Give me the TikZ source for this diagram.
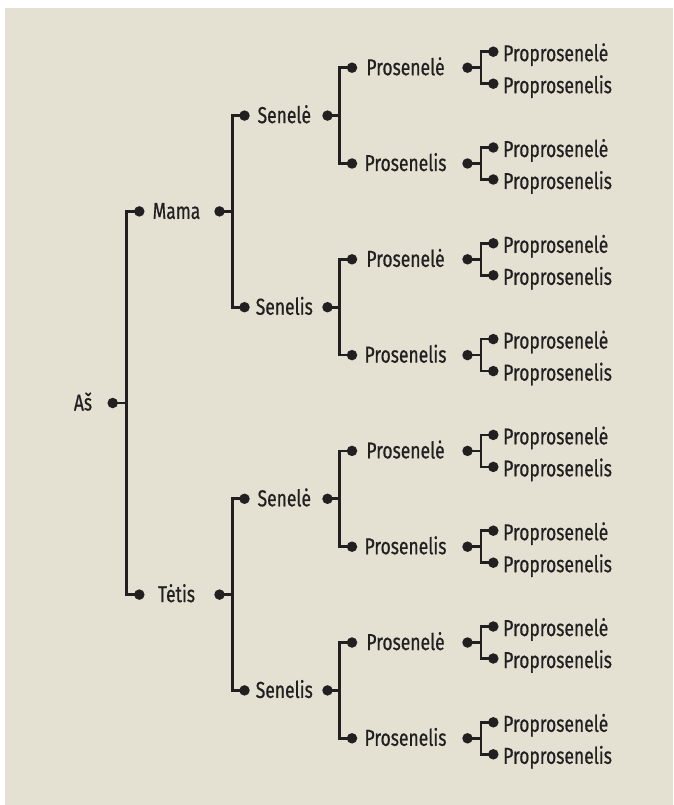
\documentclass[tikz,border=0pt]{standalone}
\usepackage{fontspec}
\setmainfont{Fira Sans}[FakeStretch=0.76,FakeBold=0.6]
\definecolor{bg}{HTML}{E4E1D3}
\definecolor{ink}{HTML}{231F20}
\begin{document}
\begin{tikzpicture}[x=1pt,y=-1pt,
  dot/.style={circle,fill=ink,inner sep=0pt,minimum size=10.5pt},
  conn/.style={draw=ink,line width=2.7pt},
  lbl/.style={font=\fontsize{23}{27}\selectfont,text=ink,inner sep=0pt,anchor=base},
  lbll/.style={lbl,anchor=base west}]
\useasboundingbox (0,0) rectangle (673,805);
\fill[bg] (5,8) rectangle (673,805);
% level 0
\node[dot] (R0) at (112.7,403) {};
\node[lbl] (T0) at (83,410.5) {Aš};
% level 1
\foreach \n/\y/\t in {1/211.4/Mama,2/594.6/Tėtis} {
  \node[dot] (L1\n) at (139.3,\y) {};
  \node[dot] (R1\n) at (219.5,\y) {};
  \node[lbl] (T1\n) at (176.5,\y+7.5) {\t};
  \draw[conn] (R0.center) -- ++(13.8,0) |- (L1\n.center);
}
% level 2
\foreach \n/\y/\t/\p in {1/115.6/Senelė/1,2/307.2/Senelis/1,3/498.8/Senelė/2,4/690.4/Senelis/2} {
  \node[dot] (L2\n) at (244.5,\y) {};
  \node[dot] (R2\n) at (327.5,\y) {};
  \node[lbl] (T2\n) at (284.3,\y+7.5) {\t};
  \draw[conn] (R1\p.center) -- ++(13.2,0) |- (L2\n.center);
}
% level 3
\foreach \n/\t in {1/Prosenelė,2/Prosenelis,3/Prosenelė,4/Prosenelis,5/Prosenelė,6/Prosenelis,7/Prosenelė,8/Prosenelis} {
  \pgfmathsetmacro\y{67.7+95.8*(\n-1)}
  \pgfmathtruncatemacro\p{(\n+1)/2}
  \node[dot] (L3\n) at (352,\y) {};
  \node[dot] (R3\n) at (467.5,\y) {};
  \node[lbl] (T3\n) at (405.5,\y+7.5) {\t};
  \draw[conn] (R2\p.center) -- ++(12,0) |- (L3\n.center);
  % level 4
  \node[dot] (A4\n) at (493.3,\y-16) {};
  \node[dot] (B4\n) at (493.3,\y+16) {};
  \node[lbll] (TA4\n) at (503,\y-16+9.5) {Proprosenelė};
  \node[lbll] (TB4\n) at (503,\y+16+9.5) {Proprosenelis};
  \draw[conn] (R3\n.center) -- ++(13.5,0) |- (A4\n.center);
  \draw[conn] (R3\n.center) -- ++(13.5,0) |- (B4\n.center);
}
\end{tikzpicture}
\end{document}
